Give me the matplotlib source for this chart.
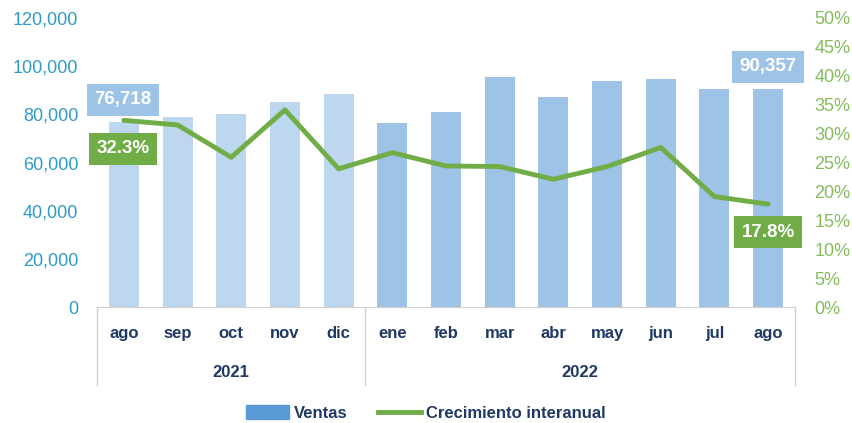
import matplotlib.pyplot as plt
import numpy as np
from matplotlib.ticker import FuncFormatter
from matplotlib.patches import Patch
from matplotlib.lines import Line2D

meses = ['ago', 'sep', 'oct', 'nov', 'dic', 'ene', 'feb', 'mar', 'abr', 'may', 'jun', 'jul', 'ago']
anios = ['2021', '2022']
n_2021 = 5
ventas = [76718, 78900, 80200, 85100, 88300, 76200, 81000, 95400, 87000, 93700, 94600, 90500, 90357]
crecimiento = [32.3, 31.5, 25.9, 34.1, 23.9, 26.7, 24.4, 24.3, 22.1, 24.3, 27.6, 19.1, 17.8]

plt.rcParams['font.family'] = ['Liberation Sans Narrow', 'Liberation Sans', 'DejaVu Sans']

c_2021 = '#BDD7EE'
c_2022 = '#9DC3E6'
c_line = '#70AD47'
c_left = '#2F9AC8'
c_right = '#84BC5C'
c_text = '#1F3864'
c_axis = '#D0D0D0'

fig = plt.figure(figsize=(8.52, 4.23), dpi=100)
L, R, B, T = 97/852, 795/852, (423-307)/423, (423-18)/423
ax = fig.add_axes([L, B, R-L, T-B])
ax2 = ax.twinx()

x = np.arange(len(meses))
colores = [c_2021]*n_2021 + [c_2022]*(len(meses)-n_2021)
ax.bar(x, ventas, width=0.56, color=colores, zorder=2)
ax.set_xlim(-0.5, len(meses)-0.5)
ax.set_ylim(0, 120000)
ax.set_yticks(range(0, 120001, 20000))
ax.yaxis.set_major_formatter(FuncFormatter(lambda v, p: f'{int(v):,}'))
ax.tick_params(axis='y', length=0, labelsize=13, colors=c_left, pad=13.5)
ax.set_xticks([])

ax2.plot(x, crecimiento, color=c_line, lw=3.5, solid_capstyle='round', solid_joinstyle='round', zorder=3)
ax2.set_ylim(0, 50)
ax2.set_yticks(range(0, 51, 5))
ax2.yaxis.set_major_formatter(FuncFormatter(lambda v, p: f'{int(v)}%'))
ax2.tick_params(axis='y', length=0, labelsize=13, colors=c_right, pad=14)

for a in (ax, ax2):
    for s in a.spines.values():
        s.set_visible(False)
ax.spines['bottom'].set_visible(True)
ax.spines['bottom'].set_color(c_axis)

# etiquetas de meses y años
tr = ax.get_xaxis_transform()
for i, m in enumerate(meses):
    ax.text(i, -0.09, m, transform=tr, ha='center', va='center', fontsize=12,
            fontweight='bold', color=c_text)
ax.text((n_2021-1)/2, -0.225, anios[0], transform=tr, ha='center', va='center',
        fontsize=12, fontweight='bold', color=c_text)
ax.text((n_2021+len(meses)-1)/2, -0.225, anios[1], transform=tr, ha='center', va='center',
        fontsize=12, fontweight='bold', color=c_text)
for xs in (-0.5, n_2021-0.5, len(meses)-0.5):
    ax.plot([xs, xs], [0, -0.27], transform=tr, color=c_axis, lw=1, clip_on=False)

# etiquetas de datos
box_v = dict(boxstyle='square,pad=0.4', fc=c_2022, ec='none')
box_c = dict(boxstyle='square,pad=0.4', fc=c_line, ec='none')
ax.text(-0.02, 86000, f'{ventas[0]:,}', ha='center', va='center', fontsize=13.5,
        fontweight='bold', color='white', bbox=box_v, zorder=5)
ax.text(len(meses)-1, 99800, f'{ventas[-1]:,}', ha='center', va='center', fontsize=13.5,
        fontweight='bold', color='white', bbox=box_v, zorder=5)
ax2.text(-0.02, 27.4, f'{crecimiento[0]}%', ha='center', va='center', fontsize=13.5,
         fontweight='bold', color='white', bbox=box_c, zorder=5)
ax2.text(len(meses)-1, 12.9, f'{crecimiento[-1]}%', ha='center', va='center', fontsize=13.5,
         fontweight='bold', color='white', bbox=box_c, zorder=5)

# leyenda
handles = [Patch(color='#5B9BD5', label='Ventas'),
           Line2D([0], [0], color=c_line, lw=3.5, label='Crecimiento interanual')]
fig.legend(handles=handles, loc='center', bbox_to_anchor=(0.5, (423-413)/423),
           ncol=2, frameon=False, prop={'size': 12, 'weight': 'bold'},
           handlelength=2.6, handleheight=0.9, columnspacing=1.8, handletextpad=0.3,
           labelcolor=c_text)

fig.savefig('out.png', dpi=100)
